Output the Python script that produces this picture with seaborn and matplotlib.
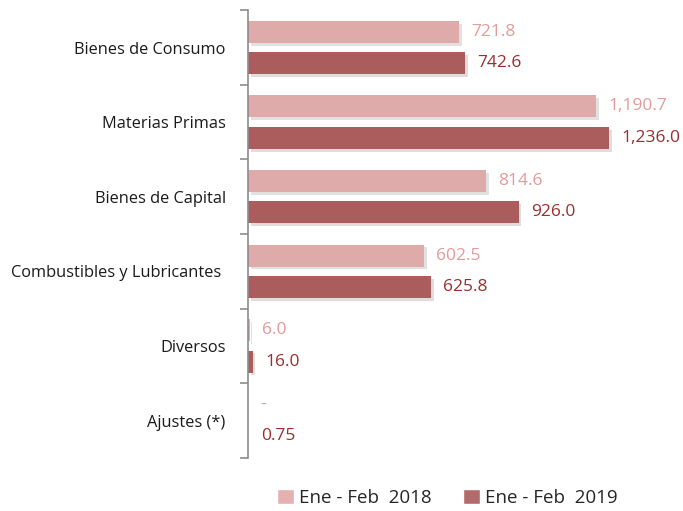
import numpy as np
import pandas as pd
import matplotlib
matplotlib.use("Agg")
import matplotlib.pyplot as plt
import matplotlib.patheffects as pe
from matplotlib.patches import Patch
import seaborn as sns

# Datos
categorias = ["Bienes de Consumo", "Materias Primas", "Bienes de Capital",
              "Combustibles y Lubricantes ", "Diversos", "Ajustes (*)"]
valores_2018 = [721.8, 1190.7, 814.6, 602.5, 6.0, 0.0]
valores_2019 = [742.6, 1236.0, 926.0, 625.8, 16.0, 0.75]
etiquetas_2018 = ["721.8", "1,190.7", "814.6", "602.5", "6.0", "-"]
etiquetas_2019 = ["742.6", "1,236.0", "926.0", "625.8", "16.0", "0.75"]
series = ["Ene - Feb  2018", "Ene - Feb  2019"]

df = pd.DataFrame({
    "categoria": categorias * 2,
    "valor": valores_2018 + valores_2019,
    "serie": [series[0]] * len(categorias) + [series[1]] * len(categorias),
})

sns.set_style("white")
plt.rcParams["font.family"] = ["Open Sans", "DejaVu Sans"]

color_claro = "#DFAAAA"
color_oscuro = "#AB5D5D"
texto_claro = "#E39A9A"
texto_oscuro = "#9A2E2E"

fig = plt.figure(figsize=(6.83, 5.11), dpi=100)
ax = fig.add_axes([0.363, 0.104, 0.599, 0.876])

sns.barplot(data=df, x="valor", y="categoria", hue="serie", orient="h",
            palette=[color_claro, color_oscuro], width=0.84, gap=0.3,
            ax=ax, legend=False, saturation=1)

for p in ax.patches:
    p.set_path_effects([pe.SimplePatchShadow(offset=(2, -2), alpha=0.15), pe.Normal()])
    p.set_linewidth(0)

# Etiquetas de valores
n = len(categorias)
for i in range(n):
    ax.annotate(etiquetas_2018[i], xy=(valores_2018[i], i - 0.21), xytext=(9, 0),
                textcoords="offset points", va="center", ha="left",
                fontsize=12.5, color=texto_claro)
    ax.annotate(etiquetas_2019[i], xy=(valores_2019[i], i + 0.21), xytext=(9, 0),
                textcoords="offset points", va="center", ha="left",
                fontsize=12.5, color=texto_oscuro)

ax.set_xlim(0, 1400)
ax.set_ylim(n - 0.5, -0.5)
ax.set_xlabel("")
ax.set_ylabel("")
ax.set_xticks([])

for s in ["top", "right", "bottom"]:
    ax.spines[s].set_visible(False)
ax.spines["left"].set_color("#8C8C8C")
ax.spines["left"].set_linewidth(1.2)

ax.set_yticks(np.arange(n))
ax.set_yticklabels(categorias, fontsize=11.8, color="#1A1A1A")
ax.tick_params(axis="y", which="major", left=False, length=0, pad=16)
ax.set_yticks(np.arange(-0.5, n, 1.0), minor=True)
ax.tick_params(axis="y", which="minor", left=True, length=6, width=1.2,
               color="#8C8C8C", direction="out")

leyenda = [Patch(facecolor="#E5B0B0", label=series[0]),
           Patch(facecolor="#B36A6A", label=series[1])]
fig.legend(handles=leyenda, loc="center", bbox_to_anchor=(0.655, 0.026), ncol=2,
           frameon=False, fontsize=13.5, handlelength=0.9, handleheight=0.9,
           handletextpad=0.25, columnspacing=1.7)

fig.savefig("out.png", dpi=100)
